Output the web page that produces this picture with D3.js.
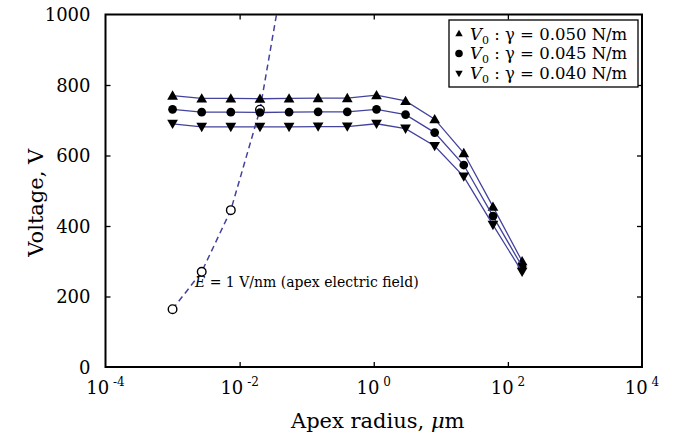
<!DOCTYPE html>
<html><head><meta charset="utf-8">
<script src="https://cdn.jsdelivr.net/npm/d3@7"></script>
<style>body{margin:0;background:#fff}svg{display:block}</style>
</head><body><div id="chart"></div>
<script>
// apex radius (um) used for every series
const radius = [0.001, 0.00272, 0.00739, 0.0201, 0.0546, 0.148, 0.403, 1.10, 2.98, 8.10, 22.0, 59.9, 163];
const v050 = [770, 762, 762, 761, 762, 763, 763, 771, 755, 703, 607, 455, 300];
const v045 = [731, 723, 723, 722, 723, 724, 724, 731, 716, 665, 573, 428, 285];
const v040 = [690, 681, 681, 681, 681, 682, 682, 690, 676, 627, 540, 403, 270];
// E = 1 V/nm curve
const eRadius = [0.001, 0.00272, 0.00739, 0.0201, 0.0546];
const eVolt = [164, 270, 445, 730, 1205];

const xTickVals = [1e-4, 1e-2, 1, 1e2, 1e4];
const xTickExp = ['-4', '-2', '0', '2', '4'];
const yTickVals = [0, 200, 400, 600, 800, 1000];
const gammas = ['0.050', '0.045', '0.040'];

const W = 677, H = 440;
const pad = { top: 14.5, right: 35, bottom: 73, left: 105.5 };
const LINE = '#43439c';
const FONT = 'DejaVu Serif';

const svg = d3.select('#chart').append('svg').attr('width', W).attr('height', H);

const x = d3.scaleLog().domain([1e-4, 1e4]).range([pad.left, W - pad.right]);
const y = d3.scaleLinear().domain([0, 1000]).range([H - pad.bottom, pad.top]);

svg.append('defs').append('clipPath').attr('id', 'plot')
  .append('rect').attr('x', x(1e-4)).attr('y', y(1000))
  .attr('width', x(1e4) - x(1e-4)).attr('height', y(0) - y(1000));

// inward ticks on all four sides
const tk = g => g.call(s => s.select('.domain').remove())
  .call(s => s.selectAll('line').attr('stroke', '#000').attr('stroke-width', 1.3));
svg.append('g').attr('transform', `translate(0,${y(0)})`)
  .call(d3.axisBottom(x).tickValues([1e-2, 1, 1e2]).tickSize(-5).tickFormat('')).call(tk);
svg.append('g').attr('transform', `translate(0,${y(1000)})`)
  .call(d3.axisTop(x).tickValues([1e-2, 1, 1e2]).tickSize(-5).tickFormat('')).call(tk);
svg.append('g').attr('transform', `translate(${x(1e-4)},0)`)
  .call(d3.axisLeft(y).tickValues([200, 400, 600, 800]).tickSize(-5).tickFormat('')).call(tk);
svg.append('g').attr('transform', `translate(${x(1e4)},0)`)
  .call(d3.axisRight(y).tickValues([200, 400, 600, 800]).tickSize(-5).tickFormat('')).call(tk);

// tick labels
svg.append('g').selectAll('text').data(yTickVals).enter().append('text')
  .attr('x', x(1e-4) - 15).attr('y', d => y(d) + 6.5)
  .attr('text-anchor', 'end').attr('font-family', FONT).attr('font-size', 18)
  .text(d => d);
svg.append('g').selectAll('text').data(xTickVals).enter().append('text')
  .attr('x', d => x(d)).attr('y', y(0) + 27)
  .attr('text-anchor', 'middle').attr('font-family', FONT).attr('font-size', 18)
  .each(function (d, i) {
    const t = d3.select(this);
    t.append('tspan').text('10');
    t.append('tspan').attr('dy', -8).attr('font-size', 12).text(' ' + xTickExp[i]);
  });

// axis titles
svg.append('text').attr('x', (x(1e-4) + x(1e4)) / 2 + 4).attr('y', 428)
  .attr('text-anchor', 'middle').attr('font-family', FONT).attr('font-size', 21)
  .call(t => {
    t.append('tspan').text('Apex radius, ');
    t.append('tspan').attr('font-style', 'italic').text('μ');
    t.append('tspan').text('m');
  });
svg.append('text').attr('transform', `translate(43,${(y(0) + y(1000)) / 2 + 12}) rotate(-90)`)
  .attr('text-anchor', 'middle').attr('font-family', FONT).attr('font-size', 21)
  .text('Voltage, V');

const plot = svg.append('g').attr('clip-path', 'url(#plot)');

// E field curve (dashed, open circles)
const eData = eRadius.map((r, i) => [r, eVolt[i]]);
plot.append('path').datum(eData)
  .attr('d', d3.line().x(d => x(d[0])).y(d => y(d[1])))
  .attr('fill', 'none').attr('stroke', LINE).attr('stroke-width', 1.5)
  .attr('stroke-dasharray', '6,4');
plot.append('g').selectAll('circle').data(eData).enter().append('circle')
  .attr('cx', d => x(d[0])).attr('cy', d => y(d[1])).attr('r', 4.3)
  .attr('fill', '#fff').attr('stroke', '#000').attr('stroke-width', 1.4);

// voltage series
const series = [
  { values: v050, sym: 'up' },
  { values: v045, sym: 'dot' },
  { values: v040, sym: 'down' },
];
const tri = d3.symbol().type(d3.symbolTriangle).size(50)();
const dot = d3.symbol().type(d3.symbolCircle).size(60)();
const markPath = s => s === 'dot' ? dot : tri;
const markRot = s => s === 'down' ? 'rotate(180)' : '';

series.forEach(s => {
  const pts = radius.map((r, i) => [r, s.values[i]]);
  plot.append('path').datum(pts)
    .attr('d', d3.line().x(d => x(d[0])).y(d => y(d[1])))
    .attr('fill', 'none').attr('stroke', LINE).attr('stroke-width', 1.3);
  plot.append('g').selectAll('path').data(pts).enter().append('path')
    .attr('d', markPath(s.sym)).attr('fill', '#000')
    .attr('transform', d => `translate(${x(d[0])},${y(d[1]) + (s.sym === 'up' ? 1 : s.sym === 'down' ? -1 : 0)}) ${markRot(s.sym)}`);
});

// annotation
svg.append('text').attr('x', 195).attr('y', 287)
  .attr('font-family', FONT).attr('font-size', 14)
  .call(t => {
    t.append('tspan').attr('font-style', 'italic').text('E');
    t.append('tspan').text(' = 1 V/nm (apex electric field)');
  });

// frame
svg.append('rect').attr('x', x(1e-4)).attr('y', y(1000))
  .attr('width', x(1e4) - x(1e-4)).attr('height', y(0) - y(1000))
  .attr('fill', 'none').attr('stroke', '#000').attr('stroke-width', 2);

// legend
const lg = svg.append('g').attr('transform', 'translate(449,20)');
lg.append('rect').attr('width', 189).attr('height', 67)
  .attr('fill', '#fff').attr('stroke', '#000').attr('stroke-width', 1.3);
gammas.forEach((gm, i) => {
  const cy = 14 + i * 19.5;
  const sym = series[i].sym;
  lg.append('path').attr('d', sym === 'dot' ? d3.symbol().type(d3.symbolCircle).size(45)() : d3.symbol().type(d3.symbolTriangle).size(24)())
    .attr('transform', `translate(10,${cy}) ${markRot(sym)}`).attr('fill', '#000');
  const t = lg.append('text').attr('x', 21).attr('y', cy + 5.5)
    .attr('font-family', FONT).attr('font-size', 16.5);
  t.append('tspan').attr('font-style', 'italic').text('V');
  t.append('tspan').attr('dy', 4).attr('font-size', 11).text('0');
  t.append('tspan').attr('dy', -4).text(` : γ = ${gm} N/m`);
});
</script>
</body></html>
